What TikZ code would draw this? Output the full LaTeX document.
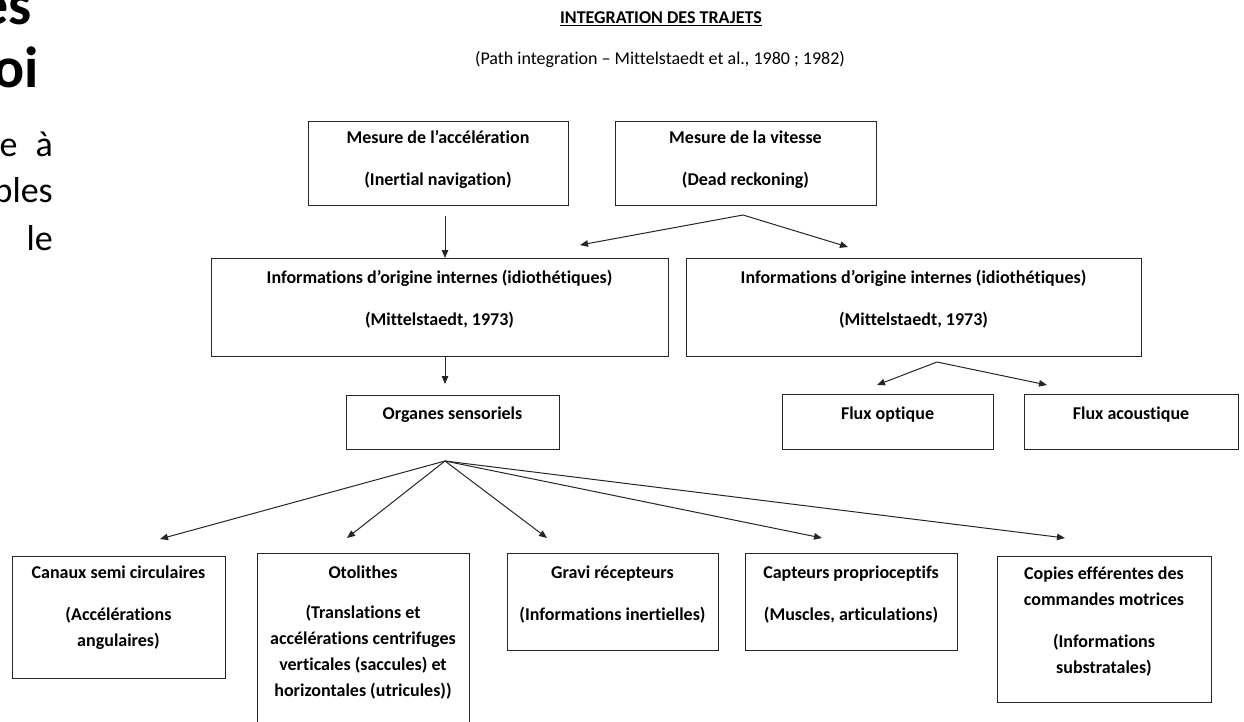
\documentclass[tikz,border=0pt]{standalone}
\usepackage{fontspec}
\setmainfont{Carlito}[Ligatures={TeX,NoCommon}]
\usetikzlibrary{arrows.meta}
\begin{document}
\begin{tikzpicture}[x=1pt,y=-1pt,
  box/.style={draw=black!85, line width=1.1pt, inner sep=0pt, anchor=north west, rectangle},
  bt/.style={font=\fontsize{18}{26}\selectfont\bfseries, align=center, anchor=north, inner sep=0pt},
  arr/.style={-{Triangle[length=8pt,width=6.5pt]}, line width=1pt, draw=black!85},
  slidet/.style={font=\fontsize{58}{64}\selectfont\bfseries, anchor=base east, inner sep=0pt},
  slideb/.style={font=\fontsize{36}{44}\selectfont, anchor=base east, inner sep=0pt}]
\useasboundingbox (0,0) rectangle (1244,722);
\clip (0,0) rectangle (1244,722);

% slide fragments at the left
\node[slidet] (s1) at (32,25) {es};
\node[slidet] (s2) at (39,88) {oi};
\node[slideb] (s3) at (53,157) {e\hspace{18pt}à};
\node[slideb] (s4) at (53,203) {bles};
\node[slideb] (s5) at (53,250) {le};

% title
\node[font=\fontsize{18}{22}\selectfont\bfseries, anchor=base, inner sep=0pt] (title) at (661,24) {\underline{INTEGRATION DES TRAJETS}};
\node[font=\fontsize{18}{22}\selectfont, anchor=base, inner sep=0pt] (sub) at (660,65) {(Path integration – Mittelstaedt et al., 1980 ; 1982)};

% boxes
\node[box, minimum width=260pt, minimum height=84pt] (acc) at (308,121) {};
\node[box, minimum width=261pt, minimum height=84pt] (vit) at (615,121) {};
\node[box, minimum width=457pt, minimum height=98pt] (infoL) at (211,258) {};
\node[box, minimum width=455pt, minimum height=98pt] (infoR) at (686,258) {};
\node[box, minimum width=213pt, minimum height=54pt] (org) at (346,395) {};
\node[box, minimum width=211pt, minimum height=55pt] (fopt) at (782,394) {};
\node[box, minimum width=214pt, minimum height=55pt] (facou) at (1024,394) {};
\node[box, minimum width=213pt, minimum height=122pt] (can) at (12,556) {};
\node[box, minimum width=212pt, minimum height=175pt] (oto) at (257,553) {};
\node[box, minimum width=211pt, minimum height=97pt] (grav) at (507,553) {};
\node[box, minimum width=212pt, minimum height=97pt] (capt) at (745,553) {};
\node[box, minimum width=214pt, minimum height=146pt] (cop) at (997,556) {};

% texts
\node[bt] (acc-t) at (438,124.8) {\strut Mesure de l’accélération\\[16pt]\strut (Inertial navigation)};
\node[bt] (vit-t) at (745.5,124.8) {\strut Mesure de la vitesse\\[16pt]\strut (Dead reckoning)};
\node[bt] (infoL-t) at (439.5,264.8) {\strut Informations d’origine internes (idiothétiques)\\[16pt]\strut (Mittelstaedt, 1973)};
\node[bt] (infoR-t) at (913.5,264.8) {\strut Informations d’origine internes (idiothétiques)\\[16pt]\strut (Mittelstaedt, 1973)};
\node[bt] (org-t) at (452.5,401) {\strut Organes sensoriels};
\node[bt] (fopt-t) at (887.5,401) {\strut Flux optique};
\node[bt] (facou-t) at (1131,401) {\strut Flux acoustique};
\node[bt] (can-t) at (118.5,559.8) {\strut Canaux semi circulaires\\[16pt]\strut (Accélérations\\\strut angulaires)};
\node[bt] (oto-t) at (363,559.8) {\strut Otolithes\\[14pt]\strut (Translations et\\\strut accélérations centrifuges\\\strut verticales (saccules) et\\\strut horizontales (utricules))};
\node[bt] (grav-t) at (612.5,559.8) {\strut Gravi récepteurs\\[16pt]\strut (Informations inertielles)};
\node[bt] (capt-t) at (851,559.8) {\strut Capteurs proprioceptifs\\[16pt]\strut (Muscles, articulations)};
\node[bt] (cop-t) at (1104,560.8) {\strut Copies efférentes des\\\strut commandes motrices\\[16pt]\strut (Informations\\\strut substratales)};

% connector points
\coordinate (a1) at (445,216);
\coordinate (vs) at (743,215);
\coordinate (vL) at (580,245);
\coordinate (vR) at (848,247);
\coordinate (a2) at (445,357);
\coordinate (a2t) at (445,384);
\coordinate (rs) at (937,362);
\coordinate (rL) at (877,385);
\coordinate (rR) at (1047,385);
\coordinate (fan) at (445,461);
\coordinate (tcan) at (160,539);
\coordinate (toto) at (347,538);
\coordinate (tgrav) at (547,538);
\coordinate (tcapt) at (822,538);
\coordinate (tcop) at (1065,538);

% connectors
\draw[arr] (a1) -- (a1 |- infoL.north);
\draw[arr] (vs) -- (vL);
\draw[arr] (vs) -- (vR);
\draw[arr] (a2) -- (a2t);
\draw[arr] (rs) -- (rL);
\draw[arr] (rs) -- (rR);
\draw[arr] (fan) -- (tcan);
\draw[arr] (fan) -- (toto);
\draw[arr] (fan) -- (tgrav);
\draw[arr] (fan) -- (tcapt);
\draw[arr] (fan) -- (tcop);
\end{tikzpicture}
\end{document}
